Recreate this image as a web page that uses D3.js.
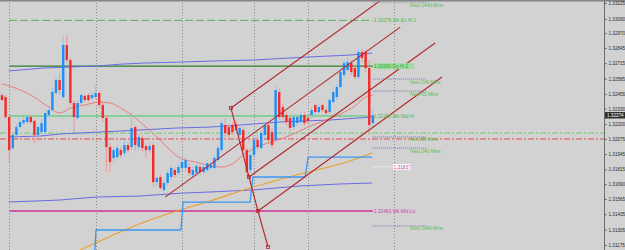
<!DOCTYPE html>
<html>
<head>
<meta charset="utf-8">
<script src="https://cdn.jsdelivr.net/npm/d3@7"></script>
<style>
  html, body { margin: 0; padding: 0; background: #d2d2d2; }
  svg { display: block; font-family: "Liberation Sans", Arial, sans-serif; }
</style>
</head>
<body>
<svg id="chart" width="625" height="250"></svg>
<script>
// ---- data ----
// candles: [open, high, low, close]
const candles = [
  [1.32445,1.32462,1.32395,1.32403],[1.32428,1.32445,1.32242,1.32259],[1.32259,1.32276,1.31878,1.31979],
  [1.31996,1.32132,1.31979,1.32107],[1.32107,1.32200,1.32090,1.32174],[1.32174,1.32242,1.32157,1.32217],
  [1.32208,1.32259,1.32191,1.32234],[1.32217,1.32284,1.32200,1.32259],[1.32259,1.32276,1.32200,1.32217],
  [1.32225,1.32242,1.32039,1.32107],[1.32107,1.32191,1.32090,1.32174],[1.32132,1.32242,1.32115,1.32208],
  [1.32132,1.32318,1.32115,1.32293],[1.32276,1.32344,1.32259,1.32318],[1.32318,1.32505,1.32301,1.32471],
  [1.32462,1.32598,1.32445,1.32572],[1.32572,1.32632,1.32445,1.32488],[1.32428,1.32954,1.32411,1.32869],
  [1.32869,1.32954,1.32716,1.32742],[1.32742,1.32759,1.32361,1.32378],[1.32378,1.32403,1.32132,1.32259],
  [1.32251,1.32403,1.32234,1.32378],[1.32378,1.32462,1.32361,1.32445],[1.32437,1.32454,1.32386,1.32403],
  [1.32445,1.32462,1.32386,1.32403],[1.32420,1.32471,1.32403,1.32445],[1.32428,1.32522,1.32411,1.32462],
  [1.32462,1.32479,1.32335,1.32361],[1.32361,1.32378,1.32217,1.32251],[1.32251,1.32276,1.31793,1.32005],
  [1.32005,1.32039,1.31793,1.31878],[1.31912,1.32005,1.31878,1.31979],[1.31920,1.32022,1.31895,1.31996],
  [1.31979,1.32005,1.31912,1.31937],[1.31954,1.32064,1.31920,1.32022],[1.32022,1.32047,1.31954,1.31979],
  [1.32005,1.32301,1.31979,1.32166],[1.32174,1.32191,1.31979,1.32022],[1.32005,1.32115,1.31979,1.32090],
  [1.32081,1.32107,1.31963,1.31996],[1.32013,1.32039,1.31912,1.31979],[1.31979,1.32047,1.31954,1.32013],
  [1.32022,1.32039,1.31666,1.31708],[1.31708,1.31768,1.31675,1.31742],[1.31751,1.31776,1.31641,1.31658],
  [1.31641,1.31725,1.31615,1.31700],[1.31700,1.31810,1.31675,1.31785],[1.31751,1.31852,1.31725,1.31827],
  [1.31810,1.31836,1.31742,1.31768],[1.31785,1.31869,1.31768,1.31836],[1.31827,1.31912,1.31802,1.31878],
  [1.31827,1.31920,1.31793,1.31895],[1.31836,1.31869,1.31759,1.31785],[1.31768,1.31844,1.31742,1.31810],
  [1.31785,1.31869,1.31759,1.31844],[1.31836,1.31861,1.31768,1.31793],[1.31793,1.31869,1.31776,1.31836],
  [1.31810,1.31895,1.31793,1.31869],[1.31827,1.31886,1.31810,1.31852],[1.31827,1.31937,1.31810,1.31912],
  [1.31895,1.32022,1.31878,1.31996],[1.31979,1.32234,1.31963,1.32208],[1.32191,1.32251,1.32090,1.32123],
  [1.32174,1.32200,1.32064,1.32107],[1.32191,1.32217,1.32107,1.32132],[1.32200,1.32234,1.32123,1.32149],
  [1.32107,1.32191,1.32090,1.32166],[1.32149,1.32174,1.31937,1.31979],[1.31979,1.31996,1.31759,1.31793],
  [1.31810,1.31979,1.31785,1.31937],[1.31937,1.32098,1.31912,1.32064],[1.32064,1.32107,1.31979,1.32005],
  [1.31996,1.32149,1.31979,1.32123],[1.32107,1.32217,1.32081,1.32191],[1.32191,1.32217,1.32030,1.32064],
  [1.32132,1.32166,1.31996,1.32022],[1.32064,1.32522,1.32047,1.32488],[1.32471,1.32505,1.32234,1.32259],
  [1.32344,1.32369,1.32234,1.32259],[1.32276,1.32301,1.32191,1.32217],[1.32251,1.32276,1.32140,1.32166],
  [1.32174,1.32293,1.32149,1.32259],[1.32208,1.32284,1.32183,1.32259],[1.32217,1.32301,1.32200,1.32276],
  [1.32276,1.32301,1.32183,1.32208],[1.32251,1.32267,1.32208,1.32225],[1.32276,1.32344,1.32251,1.32318],
  [1.32361,1.32378,1.32276,1.32301],[1.32301,1.32369,1.32284,1.32344],[1.32361,1.32378,1.32301,1.32318],
  [1.32318,1.32344,1.32276,1.32293],[1.32301,1.32420,1.32284,1.32403],[1.32386,1.32488,1.32361,1.32471],
  [1.32428,1.32539,1.32403,1.32513],[1.32513,1.32657,1.32496,1.32640],[1.32615,1.32742,1.32598,1.32716],
  [1.32657,1.32759,1.32640,1.32725],[1.32716,1.32742,1.32615,1.32640],[1.32674,1.32699,1.32581,1.32598],
  [1.32598,1.32835,1.32581,1.32810],[1.32810,1.32835,1.32725,1.32759],[1.32810,1.32835,1.32640,1.32674],
  [1.32674,1.32742,1.32107,1.32191],[1.32208,1.32335,1.32183,1.32274]
];
const lastPrice = 1.32274;

const yTicks = [1.33225,1.33090,1.32970,1.32845,1.32715,1.32585,1.32455,1.32330,1.32200,
                1.32075,1.31945,1.31815,1.31690,1.31565,1.31435,1.31305,1.31175];
const gridBars = [2, 26, 50, 70, 85, 109];

// [bar index, price]
const maLine = [[0,1.32539],[3,1.32513],[8,1.32445],[13,1.32344],[16,1.32293],[19,1.32335],[23,1.32361],
  [27,1.32386],[30,1.32378],[33,1.32335],[36,1.32276],[39,1.32200],[43,1.32090],[47,1.31971],[49,1.31920],
  [55,1.31869],[58,1.31844],[61,1.31836],[64,1.31861],[66,1.31912],[69,1.31979],[73,1.32030],[79,1.32090],
  [85,1.32174],[90,1.32234],[94,1.32284],[98,1.32352],[101,1.32428],[103,1.32445]];
const bandUpper = [[1.9,1.32649],[11.4,1.32674],[18.9,1.32683],[26.4,1.32691],[33.6,1.32708],[39.2,1.32716],
  [50.3,1.32725],[57.8,1.32733],[69.7,1.32742],[84.7,1.32767],[96.7,1.32784],[102.8,1.32801]];
const bandMiddle = [[1.9,1.32090],[10.6,1.32098],[16.1,1.32115],[27.2,1.32132],[38.3,1.32149],[48.6,1.32166],
  [57.8,1.32174],[66.1,1.32191],[77.2,1.32217],[91.1,1.32234],[102.8,1.32259]];
const bandLower = [[1.9,1.31539],[16.1,1.31556],[26.1,1.31581],[38.3,1.31590],[50.3,1.31615],[57.8,1.31624],
  [69.7,1.31641],[82.8,1.31675],[93.9,1.31692],[102.8,1.31700]];
const slowMa = [[21.7,1.31133],[27.2,1.31209],[32.8,1.31285],[41.1,1.31387],[49.4,1.31471],[57.8,1.31548],
  [68.9,1.31658],[82.8,1.31776],[96.7,1.31886],[102.8,1.31954]];
const stepLine = [[25.8,1.31124],[26.1,1.31302],[49.7,1.31302],[50.3,1.31539],[68.9,1.31539],[69.7,1.31751],
  [84.2,1.31751],[85.0,1.31920],[102.8,1.31920]];

const forkHandle = [[63.6,1.32335],[68.6,1.31751],[71.1,1.31463],[73.9,1.31158]];
const forkTines = [
  [[63.6,1.32335],[105.3,1.33250]],
  [[45.3,1.31581],[110.6,1.33021]],
  [[68.6,1.31751],[120.3,1.32886]],
  [[71.1,1.31463],[122.2,1.32598]]
];

const levelNames  = ["Wk Ex Hi 1", "Dy Hi 2", "Wk Mid Hi", "Wk Mid Lo"];
const levelPrices = [1.33078, 1.32690, 1.32268, 1.31463];
const nextLabels  = ["Next 1440 Mins", "Next 240 Mins", "Next 60 Mins", "Next 60 Mins", "Next 240 Mins", "Next 1440 Mins"];
const nextPrices  = [1.33233, 1.32581, 1.32479, 1.32090, 1.31996, 1.31336];
const dashDotPrices = [1.32123, 1.32073];
const markPrice = 1.31837;

// ---- chart ----
const W = 625, H = 250, plotW = 604;
const svg = d3.select('#chart');
const x = d3.scaleLinear().domain([-0.55, 167.2]).range([0, plotW]);
const y = d3.scaleLinear().domain([1.31175, 1.33225]).range([245, 3]);
const fmt = d3.format('.5f');
const lastBar = candles.length - 1;

svg.append('rect').attr('width', W).attr('height', H).attr('fill', '#d2d2d2');
svg.append('defs').append('clipPath').attr('id', 'plot')
  .append('rect').attr('x', 0).attr('y', 1.5).attr('width', plotW).attr('height', H);

const g = svg.append('g').attr('clip-path', 'url(#plot)');
const line = d3.line().x(d => x(d[0])).y(d => y(d[1]));
const smooth = d3.line().x(d => x(d[0])).y(d => y(d[1])).curve(d3.curveMonotoneX);

// vertical period separators
g.selectAll('.vgrid').data(gridBars).join('line')
  .attr('x1', d => Math.round(x(d)) + 0.5).attr('x2', d => Math.round(x(d)) + 0.5)
  .attr('y1', 0).attr('y2', H)
  .attr('stroke', '#8a8a8a').attr('stroke-dasharray', '1,2');

// full width dash-dot lines
const ddColors = ['#6ccf6c', '#ee4a4a'];
g.selectAll('.dd').data(dashDotPrices).join('line')
  .attr('x1', 0).attr('x2', plotW)
  .attr('y1', d => y(d)).attr('y2', d => y(d))
  .attr('stroke', (d, i) => ddColors[i]).attr('stroke-width', 1)
  .attr('stroke-dasharray', '6,2,2,2');

// levels
const levelStyle = {
  "Wk Ex Hi 1": {stroke: '#56b356', width: 1, dash: '8,3', text: '#4cbb4c'},
  "Dy Hi 2":    {stroke: '#2f7f2f', width: 1.4, dash: null, text: '#3aa83a'},
  "Wk Mid Hi":  {stroke: '#86cf9a', width: 2, dash: null, text: '#4cbb4c'},
  "Wk Mid Lo":  {stroke: '#cc5aa6', width: 2, dash: null, text: '#cc40a8'}
};
g.selectAll('.level').data(levelPrices).join('line')
  .attr('x1', x(2)).attr('x2', x(lastBar))
  .attr('y1', d => y(d)).attr('y2', d => y(d))
  .attr('stroke', (d, i) => levelStyle[levelNames[i]].stroke)
  .attr('stroke-width', (d, i) => levelStyle[levelNames[i]].width)
  .attr('stroke-dasharray', (d, i) => levelStyle[levelNames[i]].dash);

// envelope bands
g.selectAll('.band').data([bandUpper, bandMiddle, bandLower]).join('path')
  .attr('d', line)
  .attr('fill', 'none').attr('stroke', '#6a6ae8').attr('stroke-width', 1);

g.append('path').datum(slowMa).attr('d', smooth)
  .attr('fill', 'none').attr('stroke', '#eaa02a').attr('stroke-width', 1.1);

g.append('path').datum(stepLine).attr('d', line)
  .attr('fill', 'none').attr('stroke', '#3a98f0').attr('stroke-width', 1.3);

g.append('path').datum(maLine).attr('d', smooth)
  .attr('fill', 'none').attr('stroke', '#ec7272').attr('stroke-width', 0.9);

// candles
const up = d => d[3] >= d[0];
g.selectAll('.wick').data(candles).join('line')
  .attr('x1', (d, i) => x(i)).attr('x2', (d, i) => x(i))
  .attr('y1', d => y(d[1])).attr('y2', d => y(d[2]))
  .attr('stroke', d => up(d) ? '#8dc3f2' : '#f29090').attr('stroke-width', 0.9);
g.selectAll('.body').data(candles).join('rect')
  .attr('x', (d, i) => x(i) - 1.2).attr('width', 2.4)
  .attr('y', d => y(Math.max(d[0], d[3])))
  .attr('height', d => Math.max(1, Math.abs(y(d[0]) - y(d[3]))))
  .attr('fill', d => up(d) ? '#1e8ff5' : '#f52a2a');

// pitchfork
const forkColor = '#b3262b';
g.append('path').datum(forkHandle).attr('d', line)
  .attr('fill', 'none').attr('stroke', forkColor).attr('stroke-width', 1.1);
g.selectAll('.tine').data(forkTines).join('path').attr('d', line)
  .attr('fill', 'none').attr('stroke', forkColor).attr('stroke-width', 1.1);
g.selectAll('.knot').data(forkHandle).join('rect')
  .attr('x', d => x(d[0]) - 1.5).attr('y', d => y(d[1]) - 1.5)
  .attr('width', 3).attr('height', 3)
  .attr('fill', 'none').attr('stroke', forkColor).attr('stroke-width', 0.8);

// next-period dotted lines
g.selectAll('.next').data(nextPrices).join('line')
  .attr('x1', x(lastBar)).attr('x2', x(118))
  .attr('y1', d => y(d)).attr('y2', d => y(d))
  .attr('stroke', '#4d7cf2').attr('stroke-dasharray', '1,1');
g.selectAll('.nextLbl').data(nextPrices).join('text')
  .attr('x', x(113.3)).attr('y', d => y(d) + 4.5)
  .attr('font-size', 4.8).attr('fill', '#52c052')
  .text((d, i) => nextLabels[i]);

// level labels
const lx = x(lastBar) + 1;
g.append('rect').attr('x', lx).attr('y', y(levelPrices[1]) - 3).attr('width', 40).attr('height', 6)
  .attr('fill', '#9fdc9f');
g.selectAll('.levelLbl').data(levelPrices).join('text')
  .attr('x', lx).attr('y', d => y(d) + 2)
  .attr('font-size', 4.8)
  .attr('fill', (d, i) => levelStyle[levelNames[i]].text)
  .text((d, i) => fmt(d) + '  ' + levelNames[i]);

// marked price
g.append('line').attr('x1', x(lastBar)).attr('x2', x(108.6))
  .attr('y1', y(markPrice)).attr('y2', y(markPrice))
  .attr('stroke', '#ffffff').attr('stroke-dasharray', '1,1');
g.append('rect').attr('x', x(108.6)).attr('y', y(markPrice) - 2.8).attr('width', 18).attr('height', 5.6)
  .attr('fill', '#ffffff');
g.append('text').attr('x', x(108.6) + 0.5).attr('y', y(markPrice) + 1.8)
  .attr('font-size', 4.8).attr('fill', '#c040c0').text(fmt(markPrice));

// frame
svg.append('rect').attr('x', 0).attr('y', 0).attr('width', W).attr('height', 1.5).attr('fill', '#858585');
svg.append('line').attr('x1', plotW + 0.5).attr('x2', plotW + 0.5).attr('y1', 0).attr('y2', H)
  .attr('stroke', '#6e6e6e').attr('stroke-width', 1);

// price axis
const axis = svg.append('g').attr('transform', `translate(${plotW + 0.5},0)`)
  .call(d3.axisRight(y).tickValues(yTicks).tickFormat(fmt).tickSize(2).tickSizeOuter(0).tickPadding(2));
axis.select('.domain').remove();
axis.selectAll('line').attr('stroke', '#555');
axis.selectAll('text').attr('font-size', 4.6).attr('fill', '#2a2a2a')
  .attr('font-family', '"Liberation Sans", Arial, sans-serif');

// current price tag
svg.append('rect').attr('x', plotW + 1).attr('y', y(lastPrice) - 3.2).attr('width', W - plotW - 1).attr('height', 6.4)
  .attr('fill', '#2c2c2c');
svg.append('text').attr('x', plotW + 3).attr('y', y(lastPrice) + 1.7)
  .attr('font-size', 4.6).attr('fill', '#ffffff').text(fmt(lastPrice));
</script>
</body>
</html>
